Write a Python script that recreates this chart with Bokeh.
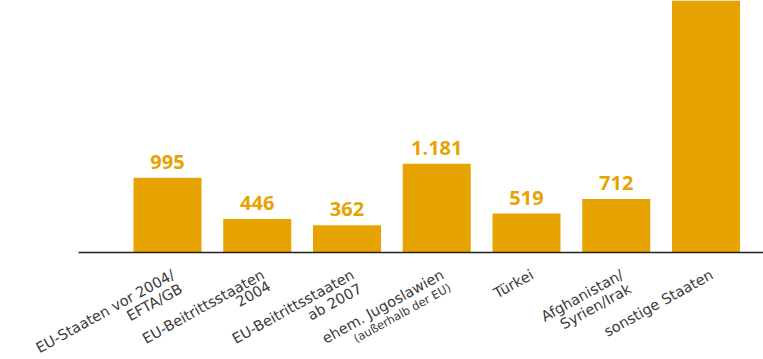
import math
from bokeh.plotting import figure
from bokeh.models import ColumnDataSource, Range1d
from bokeh.core.properties import value
from bokeh.embed import file_html
from bokeh.resources import INLINE

# ---- data ----
categories_line1 = ["EU-Staaten vor 2004/", "EU-Beitrittsstaaten", "EU-Beitrittsstaaten",
                    "ehem. Jugoslawien", "Türkei", "Afghanistan/", "sonstige Staaten"]
categories_line2 = ["EFTA/GB", "2004", "ab 2007", "(außerhalb der EU)", "", "Syrien/Irak", ""]
values = [995, 446, 362, 1181, 519, 712, 3600]

# ---- layout ----
W, H = 763, 359
px_per_cat = 89.75
first_center_px = 167
baseline_px = 252
units_per_px = 13.32
BAR = "#E7A300"
TXT = "#3a3a3a"

x = list(range(len(values)))
x_start = -first_center_px / px_per_cat
x_end = (W - first_center_px) / px_per_cat
y_end = baseline_px * units_per_px
y_start = -(H - baseline_px) * units_per_px

p = figure(width=W, height=H, x_range=Range1d(x_start, x_end), y_range=Range1d(y_start, y_end),
           output_backend="svg", toolbar_location=None, min_border=0)
p.axis.visible = False
p.grid.visible = False
p.outline_line_color = None
p.background_fill_color = "white"
p.border_fill_color = "white"

# value labels only for bars whose top lies inside the visible area (as in the reference)
labels = [f"{v:,}".replace(",", ".") if v < y_end * 0.9 else "" for v in values]
src = ColumnDataSource(dict(x=x, top=values, label=labels, zero=[0] * len(values),
                            l1=categories_line1, l2=categories_line2,
                            s2=["11.5px" if c.startswith("(") else "14.5px" for c in categories_line2]))

p.vbar(x="x", top="top", bottom=0, width=68 / px_per_cat, source=src,
       fill_color=BAR, line_color=None)
p.text(x="x", y="top", text="label", source=src, text_font=value("Open Sans"),
       text_font_style="bold", text_font_size="20px", text_color=BAR,
       text_align="center", text_baseline="alphabetic", y_offset=-16)

# baseline
p.segment(x0=[(78 - first_center_px) / px_per_cat], y0=[0], x1=[x_end], y1=[0],
          line_color="#222222", line_width=1.5)

ang = math.radians(29)
lh = 16
FONT = "DejaVu Sans"
p.text(x="x", y="zero", text="l1", source=src, angle=ang, text_align="right",
       text_baseline="top", x_offset=2, y_offset=14, text_font=value(FONT),
       text_font_size="14.5px", text_color=TXT)
p.text(x="x", y="zero", text="l2", source=src, angle=ang, text_align="right",
       text_baseline="top", x_offset=2 + lh * math.sin(ang), y_offset=14 + lh * math.cos(ang),
       text_font=value(FONT), text_font_size="s2", text_color=TXT)

open("out.html", "w").write(file_html(p, INLINE))
